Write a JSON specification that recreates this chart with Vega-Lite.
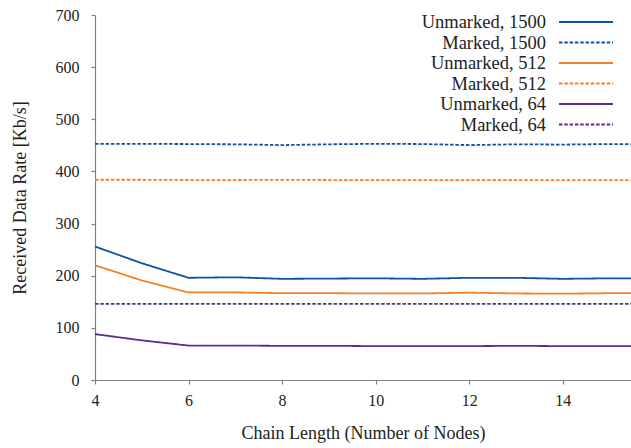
{
  "$schema": "https://vega.github.io/schema/vega-lite/v6.json",
  "width": 536,
  "height": 365,
  "autosize": {"type": "none"},
  "padding": {"left": 95, "top": 15, "right": 0, "bottom": 68},
  "background": "white",
  "config": {
    "view": {"stroke": null},
    "font": "Liberation Serif",
    "axis": {
      "domainColor": "#808080",
      "tickColor": "#808080",
      "domainWidth": 1.2,
      "tickWidth": 1.2,
      "tickSize": 4,
      "grid": false,
      "labelColor": "#222222",
      "titleColor": "#222222",
      "labelFont": "Liberation Serif",
      "titleFont": "Liberation Serif",
      "labelFontSize": 16,
      "titleFontSize": 18,
      "titleFontWeight": "normal"
    }
  },
  "data": {
    "values": [
      {"n": 4, "rate": 256, "series": "Unmarked, 1500"},
      {"n": 5, "rate": 224, "series": "Unmarked, 1500"},
      {"n": 6, "rate": 196, "series": "Unmarked, 1500"},
      {"n": 7, "rate": 197, "series": "Unmarked, 1500"},
      {"n": 8, "rate": 194, "series": "Unmarked, 1500"},
      {"n": 9, "rate": 194.5, "series": "Unmarked, 1500"},
      {"n": 10, "rate": 195, "series": "Unmarked, 1500"},
      {"n": 11, "rate": 194, "series": "Unmarked, 1500"},
      {"n": 12, "rate": 196, "series": "Unmarked, 1500"},
      {"n": 13, "rate": 196, "series": "Unmarked, 1500"},
      {"n": 14, "rate": 194, "series": "Unmarked, 1500"},
      {"n": 15, "rate": 195, "series": "Unmarked, 1500"},
      {"n": 16, "rate": 195, "series": "Unmarked, 1500"},
      {"n": 4, "rate": 453, "series": "Marked, 1500"},
      {"n": 5, "rate": 453, "series": "Marked, 1500"},
      {"n": 6, "rate": 452.5, "series": "Marked, 1500"},
      {"n": 7, "rate": 452, "series": "Marked, 1500"},
      {"n": 8, "rate": 450.5, "series": "Marked, 1500"},
      {"n": 9, "rate": 452, "series": "Marked, 1500"},
      {"n": 10, "rate": 453, "series": "Marked, 1500"},
      {"n": 11, "rate": 452.5, "series": "Marked, 1500"},
      {"n": 12, "rate": 450.5, "series": "Marked, 1500"},
      {"n": 13, "rate": 452, "series": "Marked, 1500"},
      {"n": 14, "rate": 451.5, "series": "Marked, 1500"},
      {"n": 15, "rate": 452.5, "series": "Marked, 1500"},
      {"n": 16, "rate": 452.5, "series": "Marked, 1500"},
      {"n": 4, "rate": 220, "series": "Unmarked, 512"},
      {"n": 5, "rate": 191, "series": "Unmarked, 512"},
      {"n": 6, "rate": 168, "series": "Unmarked, 512"},
      {"n": 7, "rate": 168, "series": "Unmarked, 512"},
      {"n": 8, "rate": 166.5, "series": "Unmarked, 512"},
      {"n": 9, "rate": 166.5, "series": "Unmarked, 512"},
      {"n": 10, "rate": 166, "series": "Unmarked, 512"},
      {"n": 11, "rate": 166, "series": "Unmarked, 512"},
      {"n": 12, "rate": 167.5, "series": "Unmarked, 512"},
      {"n": 13, "rate": 166, "series": "Unmarked, 512"},
      {"n": 14, "rate": 165.5, "series": "Unmarked, 512"},
      {"n": 15, "rate": 166.5, "series": "Unmarked, 512"},
      {"n": 16, "rate": 166.5, "series": "Unmarked, 512"},
      {"n": 4, "rate": 384, "series": "Marked, 512"},
      {"n": 5, "rate": 384, "series": "Marked, 512"},
      {"n": 6, "rate": 383.5, "series": "Marked, 512"},
      {"n": 7, "rate": 383.5, "series": "Marked, 512"},
      {"n": 8, "rate": 384, "series": "Marked, 512"},
      {"n": 9, "rate": 383.5, "series": "Marked, 512"},
      {"n": 10, "rate": 383.5, "series": "Marked, 512"},
      {"n": 11, "rate": 383.5, "series": "Marked, 512"},
      {"n": 12, "rate": 383.5, "series": "Marked, 512"},
      {"n": 13, "rate": 383.5, "series": "Marked, 512"},
      {"n": 14, "rate": 383.5, "series": "Marked, 512"},
      {"n": 15, "rate": 383.5, "series": "Marked, 512"},
      {"n": 16, "rate": 383.5, "series": "Marked, 512"},
      {"n": 4, "rate": 88, "series": "Unmarked, 64"},
      {"n": 5, "rate": 76, "series": "Unmarked, 64"},
      {"n": 6, "rate": 66, "series": "Unmarked, 64"},
      {"n": 7, "rate": 66, "series": "Unmarked, 64"},
      {"n": 8, "rate": 65.5, "series": "Unmarked, 64"},
      {"n": 9, "rate": 65.5, "series": "Unmarked, 64"},
      {"n": 10, "rate": 65, "series": "Unmarked, 64"},
      {"n": 11, "rate": 65, "series": "Unmarked, 64"},
      {"n": 12, "rate": 65, "series": "Unmarked, 64"},
      {"n": 13, "rate": 65.5, "series": "Unmarked, 64"},
      {"n": 14, "rate": 65, "series": "Unmarked, 64"},
      {"n": 15, "rate": 65, "series": "Unmarked, 64"},
      {"n": 16, "rate": 65, "series": "Unmarked, 64"},
      {"n": 4, "rate": 146, "series": "Marked, 64"},
      {"n": 5, "rate": 146, "series": "Marked, 64"},
      {"n": 6, "rate": 146, "series": "Marked, 64"},
      {"n": 7, "rate": 146, "series": "Marked, 64"},
      {"n": 8, "rate": 146, "series": "Marked, 64"},
      {"n": 9, "rate": 146, "series": "Marked, 64"},
      {"n": 10, "rate": 146, "series": "Marked, 64"},
      {"n": 11, "rate": 146, "series": "Marked, 64"},
      {"n": 12, "rate": 146, "series": "Marked, 64"},
      {"n": 13, "rate": 146, "series": "Marked, 64"},
      {"n": 14, "rate": 146, "series": "Marked, 64"},
      {"n": 15, "rate": 146, "series": "Marked, 64"},
      {"n": 16, "rate": 146, "series": "Marked, 64"}
    ]
  },
  "mark": {"type": "line", "clip": true, "strokeWidth": 1.8},
  "encoding": {
    "x": {
      "field": "n",
      "type": "quantitative",
      "scale": {"domain": [4, 15.46], "nice": false, "zero": false},
      "axis": {
        "values": [4, 6, 8, 10, 12, 14],
        "title": "Chain Length (Number of Nodes)",
        "labelPadding": 8,
        "titlePadding": 16,
        "labelFlush": false
      }
    },
    "y": {
      "field": "rate",
      "type": "quantitative",
      "scale": {"domain": [0, 700], "nice": false},
      "axis": {
        "values": [0, 100, 200, 300, 400, 500, 600, 700],
        "title": "Received Data Rate [Kb/s]",
        "labelPadding": 12,
        "titlePadding": 26
      }
    },
    "color": {
      "field": "series",
      "type": "nominal",
      "scale": {
        "domain": ["Unmarked, 1500", "Marked, 1500", "Unmarked, 512", "Marked, 512", "Unmarked, 64", "Marked, 64"],
        "range": ["#0f52a0", "#0f52a0", "#f58025", "#f58025", "#5b2d8e", "#5b2d8e"]
      },
      "legend": {
        "title": null,
        "orient": "none",
        "legendX": 481,
        "legendY": -3,
        "padding": 0,
        "symbolType": "M-3,0H3",
        "symbolSize": 324,
        "symbolStrokeWidth": 2,
        "labelAlign": "right",
        "labelOffset": -50,
        "labelFont": "Liberation Serif",
        "labelFontSize": 18.5,
        "labelColor": "#222222",
        "labelLimit": 400,
        "rowPadding": 0.5
      }
    },
    "strokeDash": {
      "field": "series",
      "type": "nominal",
      "scale": {
        "domain": ["Unmarked, 1500", "Marked, 1500", "Unmarked, 512", "Marked, 512", "Unmarked, 64", "Marked, 64"],
        "range": [[1, 0], [3.5, 1.8], [1, 0], [3.5, 1.8], [1, 0], [3.5, 1.8]]
      }
    }
  }
}
